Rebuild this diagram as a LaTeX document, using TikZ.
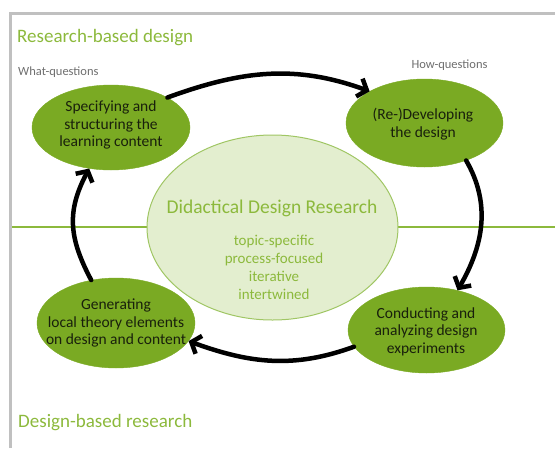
\documentclass[tikz,border=0pt]{standalone}
\usepackage{fontspec}
\setmainfont{Carlito}
\usetikzlibrary{shapes.geometric,arrows.meta}
\definecolor{leaf}{RGB}{122,170,35}
\definecolor{leaftext}{RGB}{140,185,60}
\definecolor{paleleaf}{RGB}{227,238,207}
\definecolor{paleedge}{RGB}{160,198,100}
\definecolor{framegray}{RGB}{192,192,192}
\definecolor{qgray}{RGB}{110,110,110}
\definecolor{inktext}{RGB}{25,32,12}
\tikzset{
  stage/.style={ellipse, fill=leaf, draw=leaf, inner sep=0pt},
  stagetext/.style={inner sep=0pt, align=center, text=inktext,
    font=\fontsize{15.5}{17.5}\selectfont},
  cycle/.style={line width=4.5pt, draw=black, line cap=round,
    -{Straight Barb[length=8pt,width=19pt]}},
  heading/.style={text=leaftext, font=\fontsize{19}{22}\selectfont, anchor=west, inner sep=0pt},
  question/.style={text=qgray, font=\fontsize{12.5}{14}\selectfont, inner sep=0pt}
}
\begin{document}
\begin{tikzpicture}[x=1pt,y=-1pt]
\useasboundingbox (0,0) rectangle (555,448);
% frame
\draw[framegray, line width=3pt] (10.5,448) -- (10.5,13.5) -- (555,13.5);
% horizontal separator
\coordinate (sepL) at (12,227);
\coordinate (sepR) at (555,227);
\draw[leaftext, line width=2pt] (sepL) -- (sepR);
% headings
\node[heading] (rbd) at (17,38) {Research-based design};
\node[heading] (dbr) at (18,423) {Design-based research};
\node[question, anchor=west] (whatq) at (18,72) {What-questions};
\node[question] (howq) at (449.5,65) {How-questions};
% central ellipse
\node[ellipse, fill=paleleaf, draw=paleedge, line width=1pt, inner sep=0pt,
  minimum width=251pt, minimum height=185pt] (ddr) at (272.5,227.5) {};
\node[text=leaftext, font=\fontsize{19.5}{22}\selectfont, inner sep=0pt] (ddrtitle) at (272,208) {Didactical Design Research};
\node[text=leaftext, font=\fontsize{15}{18}\selectfont, align=center, inner sep=0pt] (ddrtext) at (274,267)
  {topic-specific\\process-focused\\iterative\\intertwined};
% stages
\node[stage, minimum width=158pt, minimum height=85pt] (A) at (111,127.5) {};
\node[stage, minimum width=157pt, minimum height=88pt] (B) at (424.5,123) {};
\node[stage, minimum width=158pt, minimum height=90pt] (C) at (116,323) {};
\node[stage, minimum width=157pt, minimum height=86pt] (D) at (426.5,330) {};
\node[stagetext] (Atext) at (111,125) {Specifying and\\structuring the\\learning content};
\node[stagetext] (Btext) at (423,124) {(Re-)Developing\\the design};
\node[stagetext] (Ctext) at (116,323) {Generating\\local theory elements\\on design and content};
\node[stagetext] (Dtext) at (426,331.5) {Conducting and\\analyzing design\\experiments};
% cycle arrows
\draw[cycle] (A.28) to[out=20,in=160] (B.150);
\draw[cycle] (B.-42) to[out=-60,in=60] (D.52);
\draw[cycle] (D.193) to[out=200,in=-20] (C.-14);
\draw[cycle] (C.120) to[out=118,in=-118,looseness=1.1] (A.-118);
\end{tikzpicture}
\end{document}
